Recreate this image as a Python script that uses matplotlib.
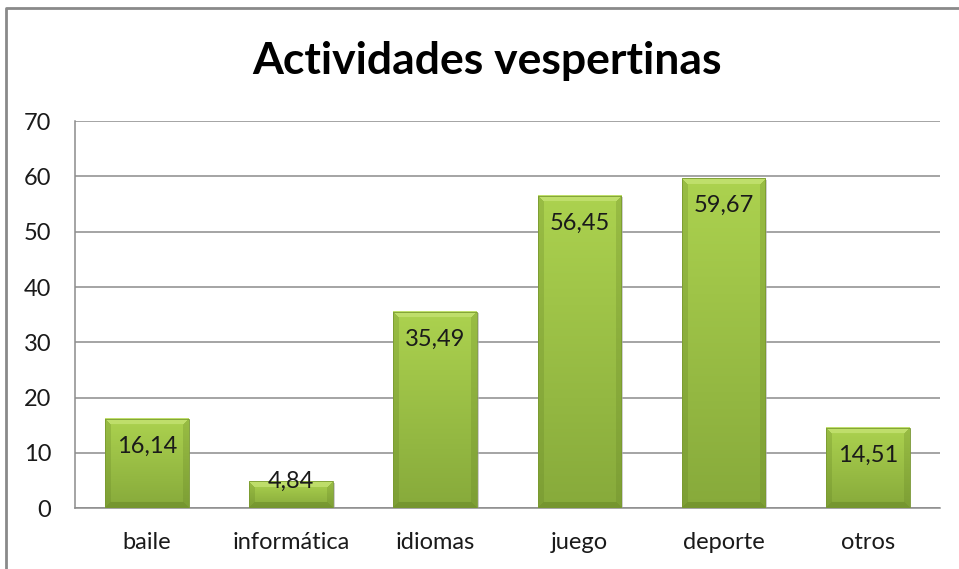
import numpy as np
import matplotlib
matplotlib.use("Agg")
import matplotlib.pyplot as plt
from matplotlib.colors import to_rgb
from matplotlib.lines import Line2D

categories = ["baile", "informática", "idiomas", "juego", "deporte", "otros"]
values = [16.14, 4.84, 35.49, 56.45, 59.67, 14.51]
value_labels = ["16,14", "4,84", "35,49", "56,45", "59,67", "14,51"]
y_ticks = [0, 10, 20, 30, 40, 50, 60, 70]

plt.rcParams['font.family'] = ['Lato', 'DejaVu Sans']

fig = plt.figure(figsize=(9.59, 5.69), dpi=100)
ax = fig.add_axes([0.078, 0.107, 0.902, 0.680])

x = np.arange(len(categories))
bars = ax.bar(x, values, width=0.58, color="none", edgecolor="none", zorder=3)

ax.set_xlim(-0.5, len(categories) - 0.5)
ax.set_ylim(0, 70)
ax.set_yticks(y_ticks)
ax.set_xticks(x)
ax.set_xticklabels(categories)
ax.tick_params(axis="both", length=0, labelsize=17, colors="#1a1a1a")
ax.tick_params(axis="y", pad=17)
ax.tick_params(axis="x", pad=17)
ax.grid(axis="y", color="#8c8c8c", linewidth=1.1, zorder=0)
ax.set_axisbelow(True)
for side in ["top", "right"]:
    ax.spines[side].set_visible(False)
ax.spines["left"].set_color("#8c8c8c")
ax.spines["bottom"].set_color("#8c8c8c")
ax.spines["left"].set_linewidth(1.1)
ax.spines["bottom"].set_linewidth(1.1)

# bevelled green fill for every bar
top_c = np.array(to_rgb("#acd24f"))
bot_c = np.array(to_rgb("#87aa3b"))
light = np.array(to_rgb("#cde87e"))
dark = np.array(to_rgb("#5f7d22"))
fig.canvas.draw()
for b in bars:
    x0, y0 = b.get_x(), b.get_y()
    w, h = b.get_width(), b.get_height()
    p0 = ax.transData.transform((x0, y0))
    p1 = ax.transData.transform((x0 + w, y0 + h))
    pw = max(int(round(p1[0] - p0[0])), 2)
    ph = max(int(round(p1[1] - p0[1])), 2)
    rows = np.linspace(0, 1, ph)[:, None]   # 0 at top
    img = top_c * (1 - rows[..., None]) + bot_c * rows[..., None]
    img = np.broadcast_to(img, (ph, pw, 3)).copy()
    bev = 6
    yy, xx = np.mgrid[0:ph, 0:pw]
    side = np.minimum(xx, pw - 1 - xx)
    d_top = yy
    d_bot = ph - 1 - yy
    m_top = (d_top < bev) & (d_top <= side)
    m_bot = (d_bot < bev) & (d_bot <= side) & ~m_top
    m_side = (side < bev) & ~m_top & ~m_bot
    img[m_top] = img[m_top] * 0.4 + light * 0.6
    img[m_side] = img[m_side] * 0.75 + dark * 0.25
    img[m_bot] = img[m_bot] * 0.55 + dark * 0.45
    # soft shadow
    ax.add_patch(plt.Rectangle((x0 + 0.012, y0), w, h - 0.25, color="#b0b0b0",
                               alpha=0.6, zorder=2.5, linewidth=0))
    ax.imshow(img, extent=(x0, x0 + w, y0, y0 + h), aspect="auto",
              interpolation="bilinear", zorder=3)
    ax.add_patch(plt.Rectangle((x0, y0), w, h, fill=False,
                               edgecolor="#7a9a30", linewidth=0.6, zorder=4))

for xi, v, lab in zip(x, values, value_labels):
    ly = v - 4.9 if v > 10 else v
    ax.text(xi, ly, lab, ha="center", va="center", fontsize=17,
            color="#1a1a1a", zorder=5)

ax.set_xlim(-0.5, len(categories) - 0.5)
ax.set_ylim(0, 70)

fig.text(0.508, 0.893, "Actividades vespertinas", ha="center", va="center",
         fontsize=32, fontweight="bold", color="black")

# outer chart border (left and top only visible)
bx = 6 / 959
by = 1 - 8 / 569
fig.add_artist(Line2D([bx, bx, 1], [0, by, by], transform=fig.transFigure,
                      color="#8a8a8a", linewidth=2))

fig.savefig("out.png", dpi=100)
